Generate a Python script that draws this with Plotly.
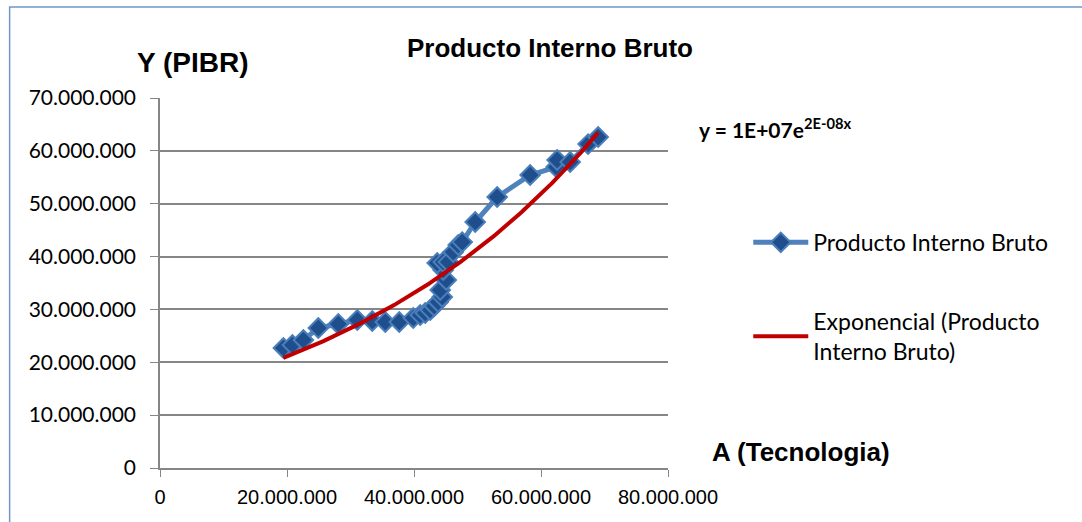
import numpy as np
import plotly.graph_objects as go

# Technology (A) and real GDP (Y) observations, in currency units
tecnologia = [19430000, 20850000, 22580000, 24930000, 28080000, 31070000, 33430000,
              35480000, 37680000, 39880000, 40980000, 41770000, 42560000, 43190000,
              43810000, 44450000, 44130000, 45080000, 44600000, 43660000, 44600000,
              45390000, 46180000, 46960000, 47590000, 49640000, 53100000, 58290000,
              62380000, 62540000, 64590000, 67420000, 69000000]
pibr = [22700000, 23270000, 24220000, 26490000, 27240000, 28000000, 27810000,
        27620000, 27620000, 28380000, 28940000, 29320000, 29890000, 30650000,
        31400000, 32350000, 33670000, 35570000, 37460000, 38780000, 38970000,
        38970000, 40860000, 42190000, 42750000, 46540000, 51270000, 55430000,
        56940000, 58270000, 57890000, 61290000, 62620000]

x_ticks = [0, 20000000, 40000000, 60000000, 80000000]
x_tick_text = ["0", "20.000.000", "40.000.000", "60.000.000", "80.000.000"]
y_ticks = [0, 10000000, 20000000, 30000000, 40000000, 50000000, 60000000, 70000000]
y_tick_text = ["0", "10.000.000", "20.000.000", "30.000.000", "40.000.000",
               "50.000.000", "60.000.000", "70.000.000"]

serie_nombre = "Producto Interno Bruto"
tendencia_nombre = "Exponencial (Producto<br>Interno Bruto)"

# Exponential least-squares trend: y = a * exp(b x)
xa = np.array(tecnologia, dtype=float)
ya = np.array(pibr, dtype=float)
b, ln_a = np.polyfit(xa, np.log(ya), 1)
x_fit = np.linspace(xa.min(), xa.max(), 200)
y_fit = np.exp(ln_a) * np.exp(b * x_fit)

GRAY = "#868686"
BODY_FONT = "Lato"
HEAD_FONT = "Liberation Sans Narrow, Liberation Sans, Arial"

fig = go.Figure()
fig.add_trace(go.Scatter(
    x=tecnologia, y=pibr, mode="lines+markers", name=serie_nombre,
    legendgroup="a",
    line=dict(color="#4F81BD", width=5),
    marker=dict(symbol="diamond", size=15, color="#1F4E8C",
                line=dict(color="#4A7EBB", width=2)),
))
fig.add_trace(go.Scatter(
    x=x_fit, y=y_fit, mode="lines", name=tendencia_nombre,
    legendgroup="b",
    line=dict(color="#C00000", width=4),
))

fig.update_layout(
    width=1082, height=522,
    margin=dict(l=159.5, r=414, t=98, b=54),
    paper_bgcolor="white", plot_bgcolor="white",
    font=dict(family=BODY_FONT, size=20, color="black"),
    showlegend=True,
    legend=dict(x=1.158, y=0.668, xanchor="left", yanchor="top",
                font=dict(family=BODY_FONT, size=23, color="black"),
                itemwidth=55, tracegroupgap=46, bgcolor="rgba(0,0,0,0)"),
    xaxis=dict(range=[0, 80000000], tickvals=x_ticks, ticktext=x_tick_text,
               showgrid=False, zeroline=False, showline=True, linecolor=GRAY,
               linewidth=1.5, ticks="outside", ticklen=7, tickcolor=GRAY,
               ticklabelstandoff=3,
               tickfont=dict(family=HEAD_FONT, size=20, color="black")),
    yaxis=dict(range=[0, 70000000], tickvals=y_ticks, ticktext=y_tick_text,
               showgrid=True, gridcolor=GRAY, gridwidth=1.5, zeroline=False,
               showline=True, linecolor=GRAY, linewidth=1.5, ticks="outside",
               ticklen=8, tickcolor=GRAY, ticklabelstandoff=10,
               tickfont=dict(family=BODY_FONT, size=21, color="black")),
)

# Chart frame (left and top edges)
fig.add_shape(type="path", xref="paper", yref="paper",
              path="M -0.296,-0.3 L -0.296,1.246 L 1.9,1.246",
              line=dict(color="#7096C9", width=1.5))

fig.add_annotation(text="<b>Producto Interno Bruto</b>", xref="paper", yref="paper",
                   x=0.768, y=1.135, showarrow=False, xanchor="center", yanchor="middle",
                   font=dict(family=HEAD_FONT, size=26, color="black"))
fig.add_annotation(text="<b>Y (PIBR)</b>", xref="paper", yref="paper",
                   x=0.064, y=1.097, showarrow=False, xanchor="center", yanchor="middle",
                   font=dict(family=HEAD_FONT, size=28, color="black"))
fig.add_annotation(text="<b>A (Tecnologia)</b>", xref="paper", yref="paper",
                   x=1.2616, y=0.043, showarrow=False, xanchor="center", yanchor="middle",
                   font=dict(family=HEAD_FONT, size=26, color="black"))
fig.add_annotation(text="<b>y = 1E+07e<sup>2E-08x</sup></b>", xref="paper", yref="paper",
                   x=1.057, y=0.92, showarrow=False, xanchor="left", yanchor="middle",
                   font=dict(family=BODY_FONT, size=21, color="black"))

fig.write_html("out.html")
